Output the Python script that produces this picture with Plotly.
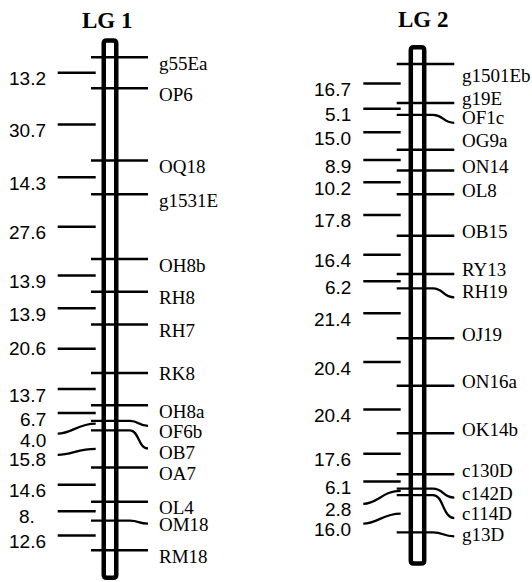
import plotly.graph_objects as go

# ---------------- data ----------------
group_titles = ["LG 1", "LG 2"]

lg1_markers = ["g55Ea", "OP6", "OQ18", "g1531E", "OH8b", "RH8", "RH7", "RK8",
               "OH8a", "OF6b", "OB7", "OA7", "OL4", "OM18", "RM18"]
lg1_intervals = [13.2, 30.7, 14.3, 27.6, 13.9, 13.9, 20.6, 13.7, 6.7, 4.0,
                 15.8, 14.6, 8.0, 12.6]
lg1_interval_labels = ["13.2", "30.7", "14.3", "27.6", "13.9", "13.9", "20.6",
                       "13.7", "6.7", "4.0", "15.8", "14.6", "8.", "12.6"]

lg2_markers = ["g1501Eb", "g19E", "OF1c", "OG9a", "ON14", "OL8", "OB15", "RY13",
               "RH19", "OJ19", "ON16a", "OK14b", "c130D", "c142D", "c114D", "g13D"]
lg2_intervals = [16.7, 5.1, 15.0, 8.9, 10.2, 17.8, 16.4, 6.2, 21.4, 20.4, 20.4,
                 17.6, 6.1, 2.8, 16.0]
lg2_interval_labels = ["16.7", "5.1", "15.0", "8.9", "10.2", "17.8", "16.4", "6.2",
                       "21.4", "20.4", "20.4", "17.6", "6.1", "2.8", "16.0"]

# ---------------- style / layout ----------------
W, H = 532, 582
SERIF = "Liberation Serif, Times New Roman, serif"
SANS = "Liberation Sans, Arial, sans-serif"

groups = [
    dict(title=group_titles[0], markers=lg1_markers, intervals=lg1_intervals,
         ilabels=lg1_interval_labels, yref="y", yaxis="yaxis",
         top=57.3, scale=2.352,
         bar_cx=110.0, bar_w=12.5, bar_top=40.5, bar_bot=577.7,
         tick_x0=91, tick_x1=148, bend_x=130, label_x=157, text_dy=6,
         left_x0=57.7, left_x1=95.7, left_label_x=47.7, left_text_dy=6,
         title_x=107, title_y=21,
         # marker: (leader end dy px, label dy px)
         lead={"OF6b": (5, 11), "OB7": (18, 22), "OM18": (3, 4), "RK8": (0, 1)},
         # interval index: (left end dy, right end dy, label dy, xshift)
         ilead={9: (8, -2, 15, 0), 10: (6, 0, 11, 0), 6: (0, 0, 0, 0),
                12: (0, 0, 5, -10.5)}),
    dict(title=group_titles[1], markers=lg2_markers, intervals=lg2_intervals,
         ilabels=lg2_interval_labels, yref="y2", yaxis="yaxis2",
         top=64.0, scale=2.33,
         bar_cx=417.5, bar_w=13.4, bar_top=47.3, bar_bot=563.4,
         tick_x0=396.7, tick_x1=454.3, bend_x=433, label_x=460, text_dy=-4,
         left_x0=363.3, left_x1=400.7, left_label_x=353.3, left_text_dy=6,
         title_x=423, title_y=20,
         lead={"g1501Eb": (0, 11), "OF1c": (8, 3), "OG9a": (0, -9), "RH19": (9, 3),
               "c142D": (9, 5), "c114D": (23, 18), "g13D": (4, 2)},
         ilead={13: (12, -1, 17.5, 0), 14: (10, 0, 15.6, 0)}),
]

fig = go.Figure()
shapes = []
annotations = []
layout_axes = {}

for g in groups:
    S = g["scale"]
    # cumulative marker positions (cM)
    pos = [0.0]
    for v in g["intervals"]:
        pos.append(pos[-1] + v)
    # y axis in cM, reversed
    rng = [(H - g["top"]) / S, -g["top"] / S]
    ax = dict(range=rng, visible=False, fixedrange=True, domain=[0, 1])
    if g["yaxis"] == "yaxis2":
        ax["overlaying"] = "y"
    layout_axes[g["yaxis"]] = ax

    # chromosome bar (rounded rectangle)
    xl = g["bar_cx"] - g["bar_w"] / 2
    xr = g["bar_cx"] + g["bar_w"] / 2
    yt = (g["bar_top"] - g["top"]) / S
    yb = (g["bar_bot"] - g["top"]) / S
    rx, ry = 3.0, 3.0 / S
    path = (f"M {xl},{yt+ry} Q {xl},{yt} {xl+rx},{yt} L {xr-rx},{yt} "
            f"Q {xr},{yt} {xr},{yt+ry} L {xr},{yb-ry} Q {xr},{yb} {xr-rx},{yb} "
            f"L {xl+rx},{yb} Q {xl},{yb} {xl},{yb-ry} Z")
    shapes.append(dict(type="path", path=path, xref="x", yref=g["yref"],
                       fillcolor="white", line=dict(color="black", width=4.5),
                       layer="below"))

    sx, sy = [], []
    for name, p in zip(g["markers"], pos):
        ldy, tdy = g["lead"].get(name, (0, g["text_dy"]))
        if ldy == 0:
            sx += [g["tick_x0"], g["tick_x1"], None]
            sy += [p, p, None]
        else:
            y2 = p + ldy / S
            bx = g["bend_x"]
            x1 = g["tick_x1"]
            path = (f"M {g['tick_x0']},{p} L {bx},{p} "
                    f"C {bx + (x1-bx)*0.5},{p} {bx + (x1-bx)*0.45},{y2} {x1},{y2}")
            shapes.append(dict(type="path", path=path, xref="x", yref=g["yref"],
                               line=dict(color="black", width=2.3)))
        annotations.append(dict(x=g["label_x"], y=p, xref="x", yref=g["yref"],
                                text=name, showarrow=False, xanchor="left",
                                yanchor="middle", yshift=-tdy,
                                font=dict(family=SERIF, size=19, color="black")))

    for i, (lab, v) in enumerate(zip(g["ilabels"], g["intervals"])):
        mid = (pos[i] + pos[i + 1]) / 2
        dl, dr, tdy, xs = g["ilead"].get(i, (0, 0, g["left_text_dy"], 0))
        if dl == 0 and dr == 0:
            sx += [g["left_x0"], g["left_x1"], None]
            sy += [mid, mid, None]
        else:
            ya = mid + dl / S
            yb2 = mid + dr / S
            x0, x1 = g["left_x0"], g["left_x1"]
            path = (f"M {x0},{ya} C {x0+14},{ya} {x1-18},{yb2} {x1},{yb2}")
            shapes.append(dict(type="path", path=path, xref="x", yref=g["yref"],
                               line=dict(color="black", width=2.3)))
        annotations.append(dict(x=g["left_label_x"], y=mid, xref="x", yref=g["yref"],
                                text=lab, showarrow=False, xanchor="right",
                                yanchor="middle", yshift=-tdy, xshift=xs,
                                font=dict(family=SANS, size=19, color="black")))

    fig.add_trace(go.Scatter(x=sx, y=sy, mode="lines", yaxis=g["yref"],
                             line=dict(color="black", width=2.5),
                             hoverinfo="skip", showlegend=False))

    annotations.append(dict(x=g["title_x"], y=1 - g["title_y"] / H, xref="x",
                            yref="paper", text=f"<b>{g['title']}</b>",
                            showarrow=False, xanchor="center", yanchor="middle",
                            font=dict(family=SERIF, size=23, color="black")))

fig.update_layout(
    width=W, height=H,
    margin=dict(l=0, r=0, t=0, b=0),
    paper_bgcolor="white", plot_bgcolor="white",
    xaxis=dict(range=[0, W], visible=False, fixedrange=True),
    shapes=shapes, annotations=annotations, showlegend=False,
    **layout_axes,
)

fig.write_html("out.html", config={"displayModeBar": False},
               post_script="document.body.style.margin='0';"
                           "document.body.style.overflow='hidden';")
